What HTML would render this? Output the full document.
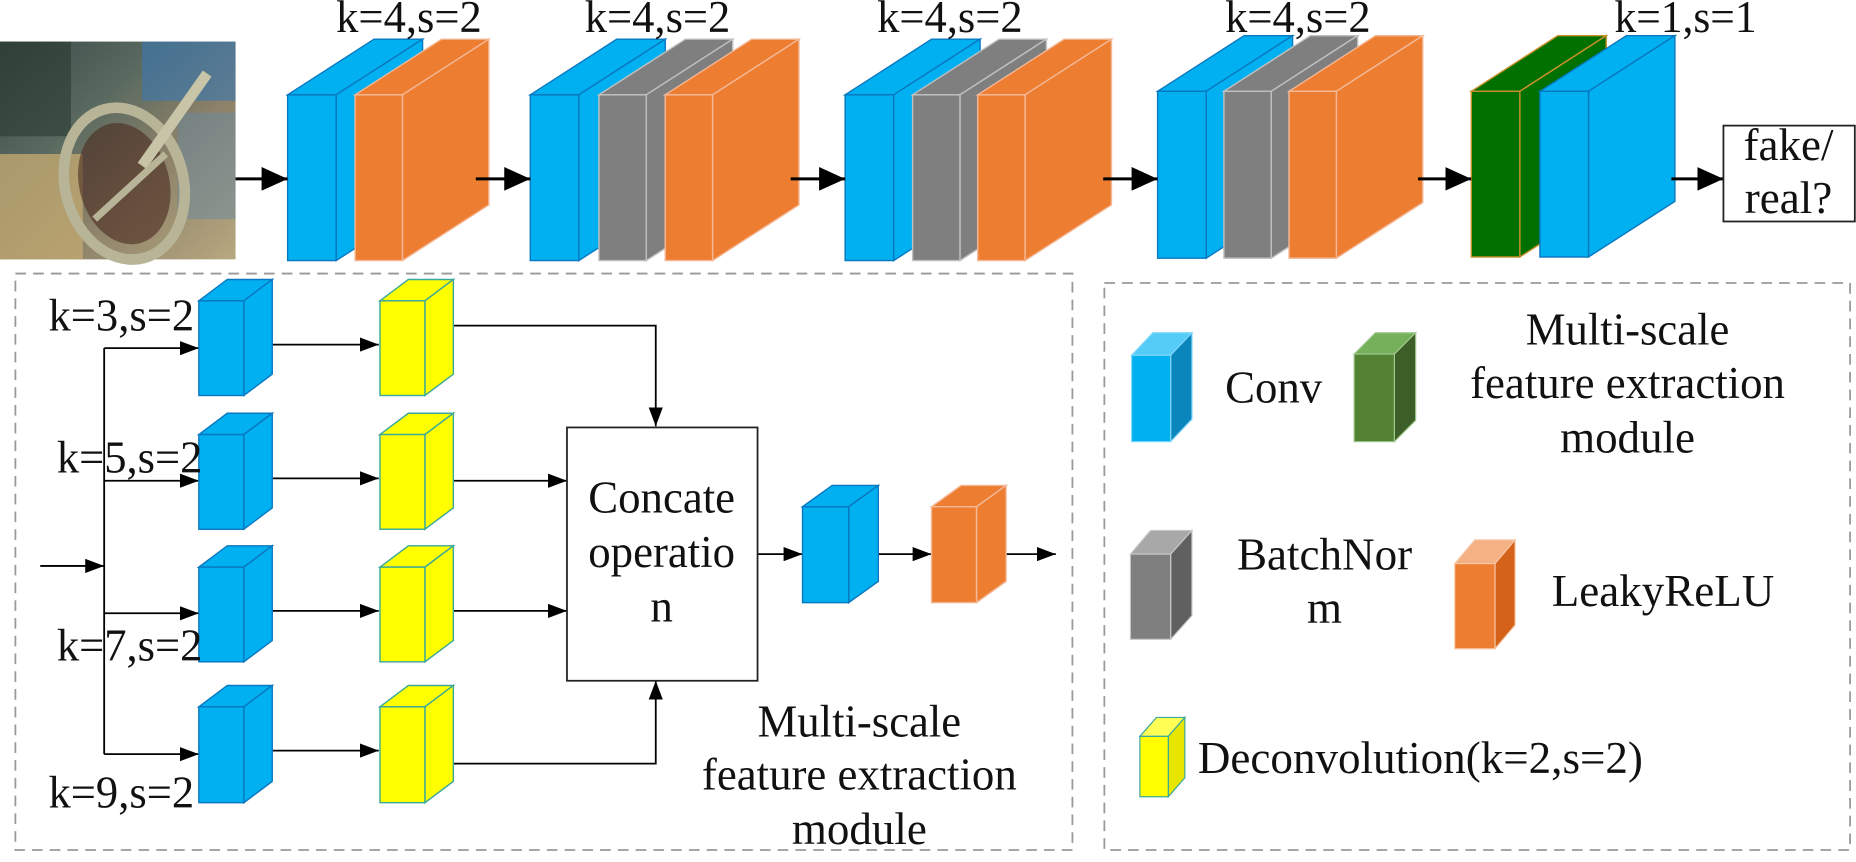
<!DOCTYPE html>
<html><head><meta charset="utf-8"><style>
html,body{margin:0;padding:0;background:#fff;}
svg{display:block;}
svg text{font-family:"Liberation Serif","Noto Serif CJK SC","DejaVu Serif",serif;font-size:38px;fill:#111;}
</style></head><body>
<svg width="1856" height="862" viewBox="0 0 1568 728" xmlns="http://www.w3.org/2000/svg">
<defs>
<marker id="as" markerWidth="16" markerHeight="12" refX="16" refY="6" orient="auto" markerUnits="userSpaceOnUse"><path d="M0,0 L16,6 L0,12 z" fill="#000"/></marker>
<marker id="al" markerWidth="22" markerHeight="20" refX="22" refY="10" orient="auto" markerUnits="userSpaceOnUse"><path d="M0,0 L22,10 L0,20 z" fill="#000"/></marker>
<linearGradient id="ph" x1="0" y1="0" x2="1" y2="1">
<stop offset="0" stop-color="#3a4a48"/><stop offset="0.35" stop-color="#5a6a60"/><stop offset="0.6" stop-color="#8a8068"/><stop offset="1" stop-color="#b8a880"/></linearGradient>
</defs>

<rect x="0" y="35" width="199" height="184" fill="url(#ph)"/>
<rect x="120" y="35" width="79" height="50" fill="#3a78b0" opacity="0.6"/>
<rect x="150" y="95" width="49" height="90" fill="#6a8aa0" opacity="0.5"/>
<rect x="0" y="130" width="70" height="89" fill="#c0a870" opacity="0.8"/>
<rect x="0" y="35" width="60" height="80" fill="#2a3a30" opacity="0.6"/>
<ellipse cx="105" cy="155" rx="50" ry="65" fill="none" stroke="#b8b498" stroke-width="9" transform="rotate(-15 105 155)"/>
<ellipse cx="105" cy="155" rx="38" ry="52" fill="#4a2a20" opacity="0.6" transform="rotate(-15 105 155)"/>
<line x1="120" y1="140" x2="175" y2="62" stroke="#c8c4a8" stroke-width="9"/>
<line x1="80" y1="185" x2="140" y2="130" stroke="#b8b498" stroke-width="6"/>

<g stroke-width="1.2">
<g fill="#00b0f0" stroke="#0a78c0">
<polygon points="243,80 316,33 357,33 284,80"/><polygon points="284,80 357,33 357,173 284,220"/><rect x="243" y="80" width="41" height="140"/>
</g>
<g fill="#ed7d31" stroke="#f4b896">
<polygon points="300,80 373,33 413,33 340,80"/><polygon points="340,80 413,33 413,173 340,220"/><rect x="300" y="80" width="40" height="140"/>
</g>
<g fill="#00b0f0" stroke="#0a78c0">
<polygon points="448,80 521,33 562,33 489,80"/><polygon points="489,80 562,33 562,173 489,220"/><rect x="448" y="80" width="41" height="140"/>
</g>
<g fill="#7f7f7f" stroke="#c0c0c0">
<polygon points="506,80 579,33 619,33 546,80"/><polygon points="546,80 619,33 619,173 546,220"/><rect x="506" y="80" width="40" height="140"/>
</g>
<g fill="#ed7d31" stroke="#f4b896">
<polygon points="562,80 635,33 675,33 602,80"/><polygon points="602,80 675,33 675,173 602,220"/><rect x="562" y="80" width="40" height="140"/>
</g>
<g fill="#00b0f0" stroke="#0a78c0">
<polygon points="714,80 787,33 828,33 755,80"/><polygon points="755,80 828,33 828,173 755,220"/><rect x="714" y="80" width="41" height="140"/>
</g>
<g fill="#7f7f7f" stroke="#c0c0c0">
<polygon points="771,80 844,33 884,33 811,80"/><polygon points="811,80 884,33 884,173 811,220"/><rect x="771" y="80" width="40" height="140"/>
</g>
<g fill="#ed7d31" stroke="#f4b896">
<polygon points="826,80 899,33 939,33 866,80"/><polygon points="866,80 939,33 939,173 866,220"/><rect x="826" y="80" width="40" height="140"/>
</g>
<g fill="#00b0f0" stroke="#0a78c0">
<polygon points="978,77 1051,30 1092,30 1019,77"/><polygon points="1019,77 1092,30 1092,171 1019,218"/><rect x="978" y="77" width="41" height="141"/>
</g>
<g fill="#7f7f7f" stroke="#c0c0c0">
<polygon points="1034,77 1107,30 1147,30 1074,77"/><polygon points="1074,77 1147,30 1147,171 1074,218"/><rect x="1034" y="77" width="40" height="141"/>
</g>
<g fill="#ed7d31" stroke="#f4b896">
<polygon points="1089,77 1162,30 1202,30 1129,77"/><polygon points="1129,77 1202,30 1202,171 1129,218"/><rect x="1089" y="77" width="40" height="141"/>
</g>
<g fill="#007000" stroke="#c8902a">
<polygon points="1243,77 1316,30 1357,30 1284,77"/><polygon points="1284,77 1357,30 1357,170 1284,217"/><rect x="1243" y="77" width="41" height="140"/>
</g>
<g fill="#00b0f0" stroke="#0a78c0">
<polygon points="1301,77 1374,30 1415,30 1342,77"/><polygon points="1342,77 1415,30 1415,170 1342,217"/><rect x="1301" y="77" width="41" height="140"/>
</g>
</g>

<g stroke="#000" stroke-width="2.5" fill="none" marker-end="url(#al)">
<line x1="199" y1="151" x2="243" y2="151"/>
<line x1="402" y1="151" x2="448" y2="151"/>
<line x1="668" y1="151" x2="714" y2="151"/>
<line x1="932" y1="151" x2="978" y2="151"/>
<line x1="1198" y1="151" x2="1243" y2="151"/>
<line x1="1412" y1="151" x2="1456" y2="151"/>
</g>
<rect x="1456" y="106" width="111" height="81" fill="#fff" stroke="#222" stroke-width="1.5"/>
<text x="1473" y="135" textLength="76" lengthAdjust="spacingAndGlyphs">fake/</text>
<text x="1474" y="180" textLength="74" lengthAdjust="spacingAndGlyphs">real?</text>

<text x="284" y="27" textLength="123" lengthAdjust="spacingAndGlyphs">k=4,s=2</text>
<text x="494" y="27" textLength="123" lengthAdjust="spacingAndGlyphs">k=4,s=2</text>
<text x="741" y="27" textLength="123" lengthAdjust="spacingAndGlyphs">k=4,s=2</text>
<text x="1035" y="27" textLength="123" lengthAdjust="spacingAndGlyphs">k=4,s=2</text>
<text x="1364" y="27" textLength="120" lengthAdjust="spacingAndGlyphs">k=1,s=1</text>

<rect x="13" y="231" width="893" height="487" fill="none" stroke="#999" stroke-width="1.5" stroke-dasharray="9,6"/>
<rect x="933" y="239" width="630" height="479" fill="none" stroke="#999" stroke-width="1.5" stroke-dasharray="9,6"/>

<g stroke="#000" stroke-width="1.5" fill="none">
<line x1="34" y1="478" x2="88" y2="478" marker-end="url(#as)"/>
<line x1="88" y1="294" x2="88" y2="637"/>
<line x1="88" y1="294" x2="168" y2="294" marker-end="url(#as)"/>
<line x1="88" y1="406" x2="168" y2="406" marker-end="url(#as)"/>
<line x1="88" y1="518" x2="168" y2="518" marker-end="url(#as)"/>
<line x1="88" y1="637" x2="168" y2="637" marker-end="url(#as)"/>
<line x1="229" y1="291" x2="320" y2="291" marker-end="url(#as)"/>
<line x1="229" y1="404" x2="320" y2="404" marker-end="url(#as)"/>
<line x1="229" y1="516" x2="320" y2="516" marker-end="url(#as)"/>
<line x1="229" y1="634" x2="320" y2="634" marker-end="url(#as)"/>
<polyline points="383,275 554,275 554,360" marker-end="url(#as)"/>
<line x1="383" y1="406" x2="479" y2="406" marker-end="url(#as)"/>
<line x1="383" y1="516" x2="479" y2="516" marker-end="url(#as)"/>
<polyline points="383,645 554,645 554,575" marker-end="url(#as)"/>
<line x1="640" y1="468" x2="678" y2="468" marker-end="url(#as)"/>
<line x1="742" y1="468" x2="787" y2="468" marker-end="url(#as)"/>
<line x1="850" y1="468" x2="892" y2="468" marker-end="url(#as)"/>
</g>
<rect x="479" y="361" width="161" height="214" fill="#fff" stroke="#222" stroke-width="1.5"/>
<text x="497" y="433" textLength="124" lengthAdjust="spacingAndGlyphs">Concate</text>
<text x="497" y="479" textLength="124" lengthAdjust="spacingAndGlyphs">operatio</text>
<text x="559" y="525" text-anchor="middle">n</text>

<g stroke-width="1.2">
<g fill="#00b0f0" stroke="#0a78c0">
<polygon points="168,254 192,236 230,236 206,254"/><polygon points="206,254 230,236 230,316 206,334"/><rect x="168" y="254" width="38" height="80"/>
<polygon points="168,367 192,349 230,349 206,367"/><polygon points="206,367 230,349 230,429 206,447"/><rect x="168" y="367" width="38" height="80"/>
<polygon points="168,479 192,461 230,461 206,479"/><polygon points="206,479 230,461 230,541 206,559"/><rect x="168" y="479" width="38" height="80"/>
<polygon points="168,597 192,579 230,579 206,597"/><polygon points="206,597 230,579 230,660 206,678"/><rect x="168" y="597" width="38" height="81"/>
<polygon points="678,428 703,410 742,410 717,428"/><polygon points="717,428 742,410 742,491 717,509"/><rect x="678" y="428" width="39" height="81"/>
</g>
<g fill="#ffff00" stroke="#3aa89a">
<polygon points="321,254 345,236 383,236 359,254"/><polygon points="359,254 383,236 383,316 359,334"/><rect x="321" y="254" width="38" height="80"/>
<polygon points="321,367 345,349 383,349 359,367"/><polygon points="359,367 383,349 383,429 359,447"/><rect x="321" y="367" width="38" height="80"/>
<polygon points="321,479 345,461 383,461 359,479"/><polygon points="359,479 383,461 383,541 359,559"/><rect x="321" y="479" width="38" height="80"/>
<polygon points="321,597 345,579 383,579 359,597"/><polygon points="359,597 383,579 383,660 359,678"/><rect x="321" y="597" width="38" height="81"/>
</g>
<g fill="#ed7d31" stroke="#f4b896">
<polygon points="787,428 812,410 850,410 825,428"/><polygon points="825,428 850,410 850,491 825,509"/><rect x="787" y="428" width="38" height="81"/>
</g>
</g>

<text x="41" y="279" textLength="123" lengthAdjust="spacingAndGlyphs">k=3,s=2</text>
<text x="48" y="399" textLength="123" lengthAdjust="spacingAndGlyphs">k=5,s=2</text>
<text x="48" y="558" textLength="123" lengthAdjust="spacingAndGlyphs">k=7,s=2</text>
<text x="41" y="682" textLength="123" lengthAdjust="spacingAndGlyphs">k=9,s=2</text>
<text x="640" y="622" textLength="172" lengthAdjust="spacingAndGlyphs">Multi-scale</text>
<text x="593" y="667" textLength="266" lengthAdjust="spacingAndGlyphs">feature extraction</text>
<text x="669" y="713" textLength="114" lengthAdjust="spacingAndGlyphs">module</text>

<g stroke-width="1">
<polygon points="956,300 974,281 1007,281 989,300" fill="#55ccf8" stroke="#7fd8fa"/>
<polygon points="989,300 1007,281 1007,354 989,373" fill="#0a86bc" stroke="#7fd8fa"/>
<rect x="956" y="300" width="33" height="73" fill="#00b0f0" stroke="#7fd8fa"/>
<polygon points="1144,299 1162,281 1196,281 1178,299" fill="#76b05a" stroke="#a0c890"/>
<polygon points="1178,299 1196,281 1196,355 1178,373" fill="#3d5e26" stroke="#a0c890"/>
<rect x="1144" y="299" width="34" height="74" fill="#548235" stroke="#a0c890"/>
<polygon points="955,468 972,448 1007,448 989,468" fill="#a8a8a8" stroke="#c8c8c8"/>
<polygon points="989,468 1007,448 1007,520 989,540" fill="#606060" stroke="#c8c8c8"/>
<rect x="955" y="468" width="34" height="72" fill="#7f7f7f" stroke="#c8c8c8"/>
<polygon points="1229,476 1246,456 1280,456 1263,476" fill="#f4b183" stroke="#f8c8a8"/>
<polygon points="1263,476 1280,456 1280,528 1263,548" fill="#d4621a" stroke="#f8c8a8"/>
<rect x="1229" y="476" width="34" height="72" fill="#ed7d31" stroke="#f8c8a8"/>
<polygon points="963,622 977,606 1001,606 987,622" fill="#ffff55" stroke="#3aa89a"/>
<polygon points="987,622 1001,606 1001,657 987,673" fill="#e6e600" stroke="#3aa89a"/>
<rect x="963" y="622" width="24" height="51" fill="#ffff00" stroke="#3aa89a"/>
</g>
<text x="1035" y="340" textLength="82" lengthAdjust="spacingAndGlyphs">Conv</text>
<text x="1289" y="291" textLength="172" lengthAdjust="spacingAndGlyphs">Multi-scale</text>
<text x="1242" y="336" textLength="266" lengthAdjust="spacingAndGlyphs">feature extraction</text>
<text x="1318" y="382" textLength="114" lengthAdjust="spacingAndGlyphs">module</text>
<text x="1045" y="481" textLength="148" lengthAdjust="spacingAndGlyphs">BatchNor</text>
<text x="1119" y="526" text-anchor="middle">m</text>
<text x="1311" y="512" textLength="188" lengthAdjust="spacingAndGlyphs">LeakyReLU</text>
<text x="1012" y="653" textLength="376" lengthAdjust="spacingAndGlyphs">Deconvolution(k=2,s=2)</text>
</svg>
</body></html>
